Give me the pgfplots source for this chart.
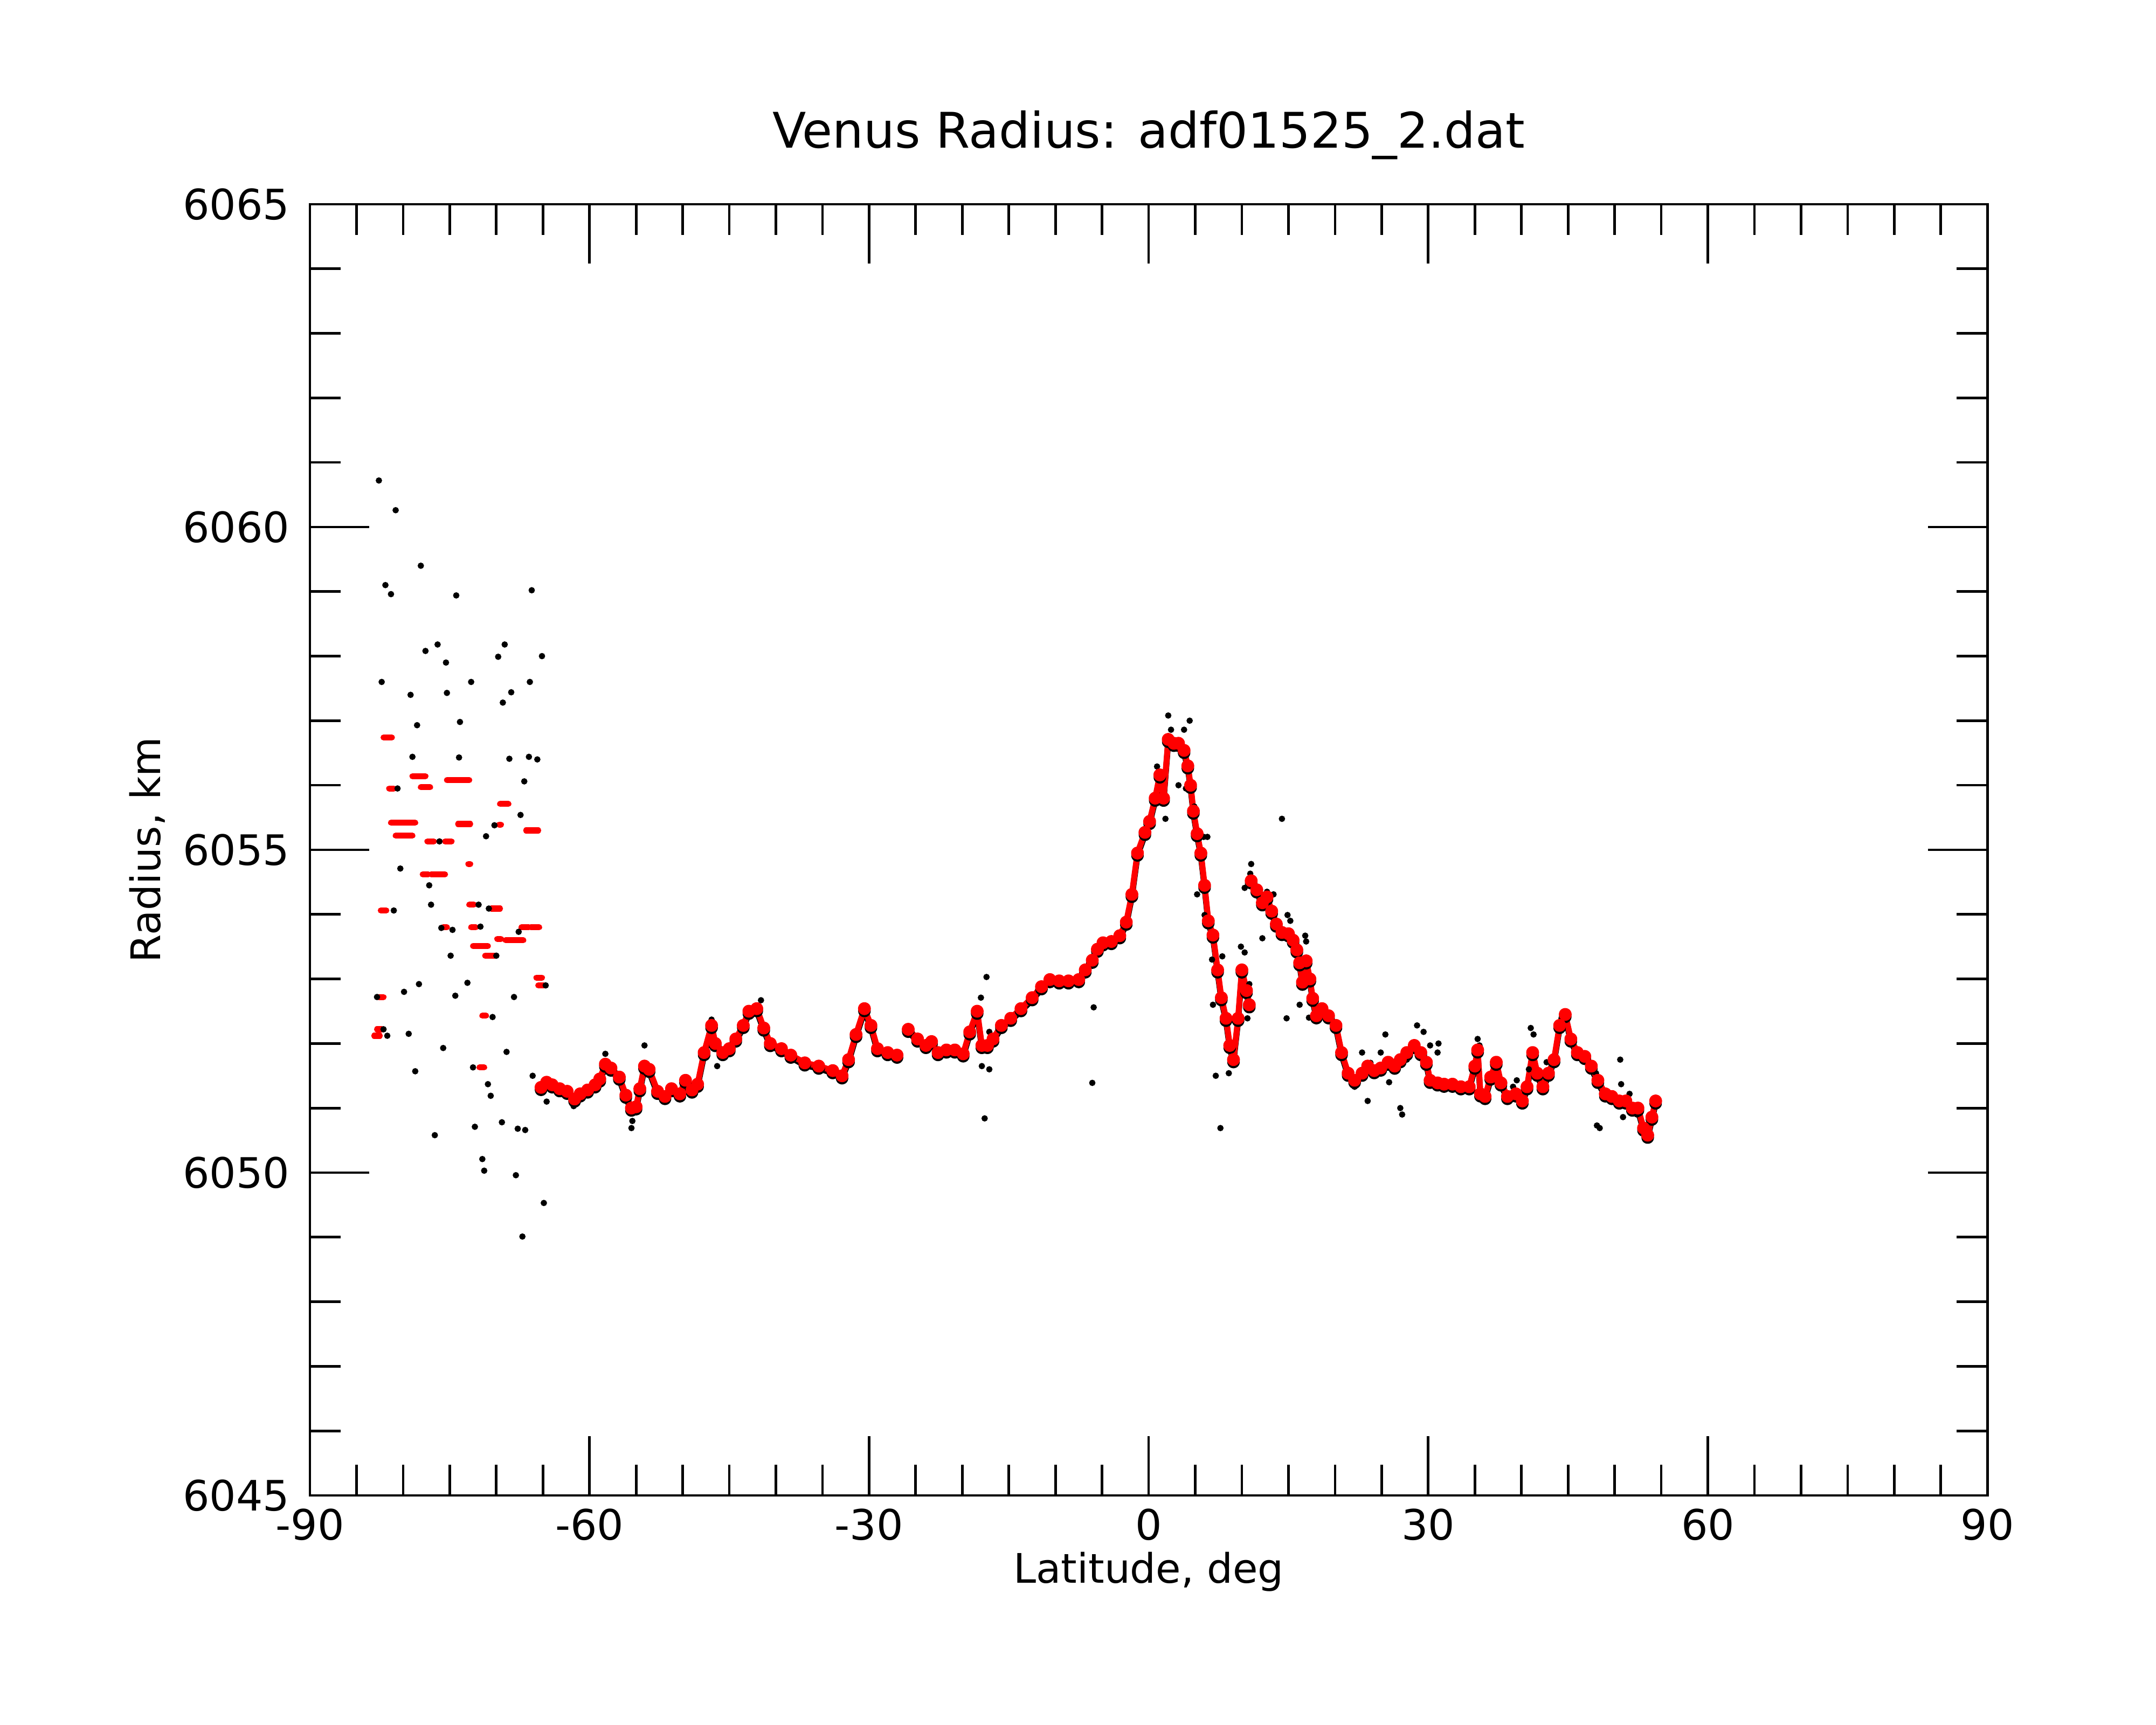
\documentclass[border=0pt]{standalone}
\usepackage{fontspec}
\setmainfont{DejaVu Sans}
\usepackage{pgfplots}
\usepackage{pgfplotstable}
\pgfplotsset{compat=1.18}

\pgfplotstableread{
lat r
-65.2 6051.32
-64.6 6051.40
-64.0 6051.36
-63.2 6051.30
-62.4 6051.26
-61.6 6051.14
-61.0 6051.22
-60.2 6051.28
-59.4 6051.36
-58.9 6051.45
-58.3 6051.68
-57.7 6051.62
-56.8 6051.48
-56.1 6051.20
-55.5 6051.00
-55.0 6051.02
-54.6 6051.30
-54.1 6051.65
-53.6 6051.60
-52.7 6051.26
-51.9 6051.18
-51.2 6051.30
-50.3 6051.22
-49.7 6051.43
-49.0 6051.28
-48.4 6051.37
-47.7 6051.86
-46.9 6052.28
-46.5 6052.00
-45.7 6051.86
-45.0 6051.92
-44.3 6052.07
-43.5 6052.28
-42.9 6052.50
-42.05 6052.54
-41.3 6052.24
-40.6 6052.00
-39.4 6051.92
-38.4 6051.82
-36.9 6051.70
-35.4 6051.65
-33.9 6051.58
-32.9 6051.50
-32.2 6051.75
-31.4 6052.14
-30.5 6052.54
-29.8 6052.28
-29.1 6051.92
-28.0 6051.86
-27.0 6051.82
-26.4 nan
-25.8 6052.22
-24.8 6052.07
-23.9 6051.97
-23.3 6052.03
-22.6 6051.86
-21.7 6051.90
-20.8 6051.90
-19.9 6051.84
-19.2 6052.18
-18.4 6052.50
-17.9 6051.97
-17.3 6051.97
-16.7 6052.07
-15.8 6052.28
-14.8 6052.39
-13.7 6052.54
-12.5 6052.71
-11.5 6052.88
-10.6 6052.99
-9.6 6052.97
-8.6 6052.97
-7.5 6052.99
-6.8 6053.14
-6.05 6053.29
-5.5 6053.46
-4.9 6053.56
-4.0 6053.58
-3.1 6053.67
-2.4 6053.88
-1.8 6054.31
-1.2 6054.95
-0.4 6055.27
0.1 6055.44
0.7 6055.80
1.2 6056.16
1.6 6055.80
2.1 6056.71
2.7 6056.65
3.2 6056.65
3.8 6056.54
4.2 6056.30
4.5 6056.00
4.8 6055.60
5.2 6055.25
5.6 6054.95
6.0 6054.45
6.4 6053.90
6.9 6053.68
7.4 6053.14
7.8 6052.71
8.3 6052.39
8.7 6051.97
9.1 6051.75
9.6 6052.39
10.0 6053.14
10.5 6052.82
10.8 6052.60
10.9 nan
11.0 6054.52
11.6 6054.38
12.2 6054.18
12.7 6054.27
13.2 6054.05
13.7 6053.85
14.3 6053.72
15.0 6053.70
15.5 6053.60
15.9 6053.45
16.2 6053.25
16.5 6052.95
16.9 6053.28
17.3 6053.00
17.6 6052.70
18.0 6052.43
18.6 6052.54
19.3 6052.43
20.1 6052.28
20.7 6051.86
21.4 6051.54
22.1 6051.43
22.9 6051.54
23.5 6051.65
24.2 6051.58
24.9 6051.62
25.7 6051.71
26.4 6051.65
27.0 6051.75
27.7 6051.86
28.5 6051.97
29.2 6051.86
29.8 6051.71
30.2 6051.43
31.0 6051.39
31.7 6051.37
32.6 6051.37
33.5 6051.33
34.4 6051.33
35.0 6051.65
35.3 6051.90
35.6 6051.22
36.1 6051.18
36.7 6051.48
37.3 6051.71
37.8 6051.39
38.5 6051.18
39.4 6051.22
40.1 6051.11
40.6 6051.33
41.2 6051.86
41.7 6051.54
42.3 6051.33
42.9 6051.54
43.5 6051.75
44.1 6052.28
44.7 6052.45
45.3 6052.07
46.0 6051.86
46.8 6051.80
47.5 6051.65
48.2 6051.43
49.0 6051.22
49.7 6051.18
50.5 6051.11
51.2 6051.11
51.9 6051.00
52.5 6051.00
53.1 6050.69
53.55 6050.58
54.0 6050.86
54.4 6051.11
}\redmain

\pgfplotstableread{
lat r
-82.1 6056.74
-81.2 6056.74
-81.2 nan
-81.5 6055.95
-81.0 6055.95
-81.0 nan
-79.0 6056.14
-77.6 6056.14
-77.6 nan
-78.1 6055.97
-77.1 6055.97
-77.1 nan
-75.3 6056.08
-72.9 6056.08
-72.9 nan
-81.3 6055.42
-78.7 6055.42
-78.7 nan
-80.8 6055.22
-79.0 6055.22
-79.0 nan
-77.4 6055.13
-76.7 6055.13
-76.7 nan
-75.5 6055.13
-74.8 6055.13
-74.8 nan
-74.1 6055.40
-72.8 6055.40
-72.8 nan
-73.0 6054.78
-72.8 6054.78
-72.8 nan
-77.9 6054.62
-77.3 6054.62
-77.3 nan
-77.0 6054.62
-75.5 6054.62
-75.5 nan
-82.4 6054.06
-81.8 6054.06
-81.8 nan
-72.9 6054.15
-72.4 6054.15
-72.4 nan
-70.5 6054.09
-69.6 6054.09
-69.6 nan
-75.7 6053.80
-75.3 6053.80
-75.3 nan
-72.7 6053.80
-72.2 6053.80
-72.2 nan
-72.5 6053.51
-70.9 6053.51
-70.9 nan
-71.2 6053.36
-70.0 6053.36
-70.0 nan
-69.9 6053.62
-69.5 6053.62
-69.5 nan
-69.0 6053.60
-67.1 6053.60
-67.1 nan
-69.6 6055.71
-68.7 6055.71
-68.7 nan
-69.7 6055.39
-69.5 6055.39
-69.5 nan
-67.3 6053.80
-66.5 6053.80
-66.5 nan
-66.3 6053.80
-65.4 6053.80
-65.4 nan
-66.8 6055.30
-65.5 6055.30
-65.5 nan
-65.7 6053.02
-65.1 6053.02
-65.1 nan
-65.5 6052.90
-64.9 6052.90
-64.9 nan
-82.6 6052.72
-82.1 6052.72
-82.1 nan
-82.8 6052.22
-82.3 6052.22
-82.3 nan
-83.1 6052.12
-82.5 6052.12
-82.5 nan
-71.5 6052.43
-71.1 6052.43
-71.1 nan
-71.8 6051.63
-71.3 6051.63
}\redsouth

\pgfplotstableread{
lat r
-82.6 6060.72
-80.8 6060.26
-78.1 6059.40
-81.9 6059.10
-81.3 6058.96
-74.3 6058.94
-66.2 6059.02
-77.6 6058.08
-76.3 6058.18
-75.4 6057.90
-69.1 6058.18
-69.8 6057.99
-65.1 6058.00
-82.3 6057.60
-79.2 6057.40
-75.3 6057.43
-72.7 6057.60
-69.3 6057.28
-68.4 6057.44
-66.4 6057.60
-78.5 6056.93
-73.9 6056.98
-79.0 6056.44
-74.0 6056.43
-68.6 6056.41
-66.5 6056.44
-65.6 6056.40
-80.6 6055.95
-67.0 6056.06
-67.4 6055.54
-70.2 6055.38
-71.1 6055.21
-76.1 6055.13
-80.3 6054.71
-77.2 6054.45
-77.0 6054.15
-81.0 6054.06
-75.9 6053.79
-74.7 6053.76
-71.9 6054.15
-71.7 6053.81
-70.8 6054.09
-74.9 6053.36
-70.0 6053.36
-67.6 6053.73
-82.8 6052.72
-79.9 6052.80
-78.3 6052.92
-74.4 6052.74
-73.1 6052.94
-68.1 6052.72
-64.7 6052.90
-82.1 6052.22
-81.7 6052.12
-79.4 6052.15
-75.7 6051.93
-70.4 6052.41
-68.9 6051.87
-78.7 6051.57
-72.5 6051.63
-70.9 6051.37
-70.6 6051.19
-66.1 6051.50
-65.4 6051.28
-76.6 6050.58
-72.3 6050.71
-69.4 6050.78
-67.7 6050.68
-66.9 6050.66
-71.5 6050.21
-71.3 6050.03
-67.9 6049.96
-64.9 6049.53
-67.2 6049.01
-64.6 6051.10
-61.7 6051.03
-61.3 6051.08
-55.5 6050.69
-55.4 6050.80
-54.1 6051.97
-58.3 6051.84
-46.9 6052.37
-46.3 6051.65
-41.6 6052.67
-18.0 6052.71
-17.4 6053.03
-17.6 6050.84
-17.9 6051.65
-17.1 6051.60
-17.1 6052.18
-5.9 6052.56
-6.05 6051.39
2.1 6057.08
2.4 6056.86
4.4 6057.00
3.8 6056.86
4.0 6055.95
3.2 6056.00
1.8 6055.48
0.9 6056.29
4.9 6055.67
5.5 6054.95
6.3 6055.20
5.9 6055.20
5.2 6054.31
6.0 6053.99
6.6 6053.67
6.8 6053.30
7.2 6051.50
7.7 6050.69
6.9 6052.60
7.9 6053.35
8.8 6051.71
8.6 6051.54
9.9 6053.50
10.3 6053.41
10.8 6052.92
10.6 6052.39
11.0 6054.78
10.9 6054.63
11.5 6054.41
10.3 6054.41
12.2 6053.63
14.3 6055.48
14.9 6053.99
15.2 6053.90
14.8 6052.39
16.8 6053.67
16.2 6052.60
17.2 6052.40
17.7 6052.65
18.2 6052.40
16.9 6053.58
13.4 6054.31
12.7 6054.35
22.1 6051.33
22.9 6051.86
23.5 6051.11
23.8 6051.70
24.9 6051.86
25.4 6052.14
25.8 6051.40
27.0 6051.00
27.2 6050.90
27.7 6051.75
28.8 6052.28
29.5 6052.18
30.2 6051.97
31.0 6051.86
31.1 6052.00
35.3 6052.07
35.5 6051.97
37.3 6051.75
39.1 6051.33
39.5 6051.43
40.8 6051.60
41.0 6052.24
41.3 6052.14
42.7 6051.71
44.3 6052.39
48.0 6051.54
48.1 6050.73
48.4 6050.69
50.6 6051.75
50.7 6051.37
50.9 6050.86
50.3 6051.11
51.6 6051.22
52.4 6050.90
53.1 6050.64
53.3 6050.58
}\blackpts

\begin{document}
\begin{tikzpicture}
\path[use as bounding box] (-103.5pt,-76.5pt) rectangle (616.5pt,499.5pt);
\begin{axis}[
  at={(0,0)}, anchor=south west,
  scale only axis, width=560.2pt, height=431.3pt,
  xmin=-90, xmax=90, ymin=6045, ymax=6065,
  xtick={-90,-60,-30,0,30,60,90},
  minor x tick num=5,
  ytick={6045,6050,6055,6060,6065},
  minor y tick num=4,
  tick align=inside,
  major tick length=19.8pt, minor tick length=10.3pt,
  every tick/.style={black, line width=0.85pt},
  axis line style={line width=0.85pt},
  font=\fontsize{14}{17}\selectfont,
  ticklabel style={font=\fontsize{14}{17}\selectfont},
  /pgf/number format/.cd, 1000 sep={}, assume math mode=true, /pgfplots/.cd,
  xticklabel style={anchor=base, yshift=-14.8pt},
  yticklabel style={xshift=-3.3pt},
  title={Venus Radius: adf01525\_2.dat},
  title style={at={(axis description cs:0.5,1)}, anchor=base, yshift=12.8pt, font=\fontsize{16.4}{19}\selectfont},
  xlabel={Latitude, deg},
  xlabel style={at={(axis description cs:0.5,0)}, anchor=base, yshift=-29.2pt, font=\fontsize{13.6}{16}\selectfont},
  ylabel={Radius, km},
  ylabel style={at={(axis description cs:0,0.5)}, anchor=base, yshift=50pt, font=\fontsize{13.6}{16}\selectfont},
  unbounded coords=jump,
  clip=true,
]
\addplot[black, only marks, mark=*, mark size=0.85pt] table[x=lat,y=r] {\blackpts};
\addplot[black, line width=2.0pt, line cap=round, line join=round, yshift=-0.8pt, mark=*, mark size=1.1pt, mark options={solid, draw=none, fill=black}] table[x=lat,y=r] {\redmain};
\addplot[red, line width=2.0pt, line cap=round] table[x=lat,y=r] {\redsouth};
\addplot[red, line width=2.0pt, line cap=round, line join=round, mark=*, mark size=1.15pt, mark options={solid, draw=none, fill=red}] table[x=lat,y=r] {\redmain};
\end{axis}
\end{tikzpicture}
\end{document}
